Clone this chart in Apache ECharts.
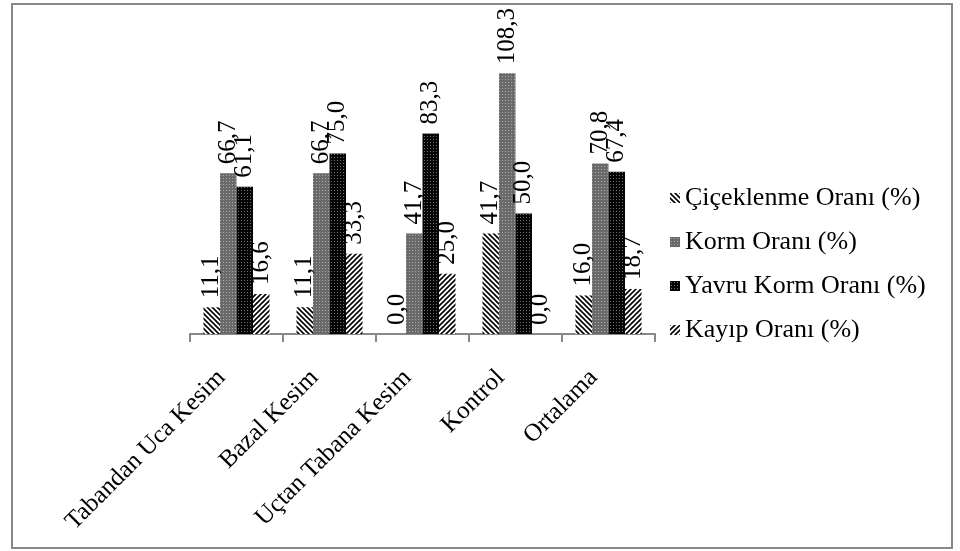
<!DOCTYPE html>
<html>
<head>
<meta charset="utf-8">
<script src="https://cdn.jsdelivr.net/npm/echarts@6/dist/echarts.min.js"></script>
<style>
  html, body { margin: 0; padding: 0; background: #fff; }
  #frame { position: absolute; left: 11px; top: 3px; width: 938px; height: 542px; border: 2px solid #888; }
  #main { position: absolute; left: 0; top: 0; width: 960px; height: 551px; }
</style>
</head>
<body>
<div id="frame"></div>
<div id="main"></div>
<script>
// kategoriler ve seriler
var categories = ['Tabandan Uca Kesim', 'Bazal Kesim', 'Uçtan Tabana Kesim', 'Kontrol', 'Ortalama'];
var seriesNames = ['Çiçeklenme Oranı (%)', 'Korm Oranı (%)', 'Yavru Korm Oranı (%)', 'Kayıp Oranı (%)'];
var cicek = [11.1, 11.1, 0.0, 41.7, 16.0];
var korm = [66.7, 66.7, 41.7, 108.3, 70.8];
var yavru = [61.1, 75.0, 83.3, 50.0, 67.4];
var kayip = [16.6, 33.3, 25.0, 0.0, 18.7];

// desen (pattern) olustur
function hatch(dir) {
    var c = document.createElement('canvas');
    c.width = 5; c.height = 5;
    var ctx = c.getContext('2d');
    ctx.fillStyle = '#fff';
    ctx.fillRect(0, 0, 5, 5);
    ctx.strokeStyle = '#000';
    ctx.lineWidth = 1.6;
    ctx.beginPath();
    if (dir > 0) {
        ctx.moveTo(-1, 6); ctx.lineTo(6, -1);
        ctx.moveTo(-1, 1); ctx.lineTo(1, -1);
        ctx.moveTo(4, 6); ctx.lineTo(6, 4);
    } else {
        ctx.moveTo(-1, -1); ctx.lineTo(6, 6);
        ctx.moveTo(4, -1); ctx.lineTo(6, 1);
        ctx.moveTo(-1, 4); ctx.lineTo(1, 6);
    }
    ctx.stroke();
    return c;
}
function dots(bg, fg) {
    var c = document.createElement('canvas');
    c.width = 3; c.height = 3;
    var ctx = c.getContext('2d');
    ctx.fillStyle = bg;
    ctx.fillRect(0, 0, 3, 3);
    ctx.fillStyle = fg;
    ctx.fillRect(1, 1, 1, 1);
    return c;
}
var fills = [
    { image: hatch(-1), repeat: 'repeat' },
    { image: dots('#6a6a6a', '#a8a8a8'), repeat: 'repeat' },
    { image: dots('#050505', '#707070'), repeat: 'repeat' },
    { image: hatch(1), repeat: 'repeat' }
];
var dataSets = [cicek, korm, yavru, kayip];

var font = 'Liberation Serif, Times New Roman, serif';
var chart = echarts.init(document.getElementById('main'));
var series = [];
for (var i = 0; i < 4; i++) {
    series.push({
        name: seriesNames[i],
        type: 'bar',
        data: dataSets[i],
        barGap: '0%',
        barCategoryGap: '29%',
        itemStyle: { color: fills[i] },
        label: {
            show: true,
            position: 'top',
            rotate: 90,
            align: 'left',
            verticalAlign: 'middle',
            distance: 9,
            color: '#000',
            fontFamily: font,
            fontSize: 25,
            formatter: function (p) { return p.value.toFixed(1).replace('.', ','); }
        }
    });
}
chart.setOption({
    animation: false,
    backgroundColor: 'transparent',
    grid: { left: 190, right: 305, top: 45, bottom: 217 },
    legend: {
        orient: 'vertical',
        left: 665,
        top: 180,
        itemWidth: 10,
        itemHeight: 10,
        itemGap: 18,
        icon: 'rect',
        textStyle: { fontFamily: font, fontSize: 26, color: '#000' },
        data: seriesNames
    },
    xAxis: {
        type: 'category',
        data: categories,
        axisLine: { lineStyle: { color: '#888', width: 2 } },
        axisTick: { show: true, length: 8, lineStyle: { color: '#888', width: 2 } },
        axisLabel: {
            rotate: 45, margin: 25, interval: 0, padding: [0, 21, 0, 0],
            color: '#000', fontFamily: font, fontSize: 25
        }
    },
    yAxis: {
        type: 'value',
        min: 0,
        max: 120,
        show: false,
        splitLine: { show: false }
    },
    series: series
});
</script>
</body>
</html>
